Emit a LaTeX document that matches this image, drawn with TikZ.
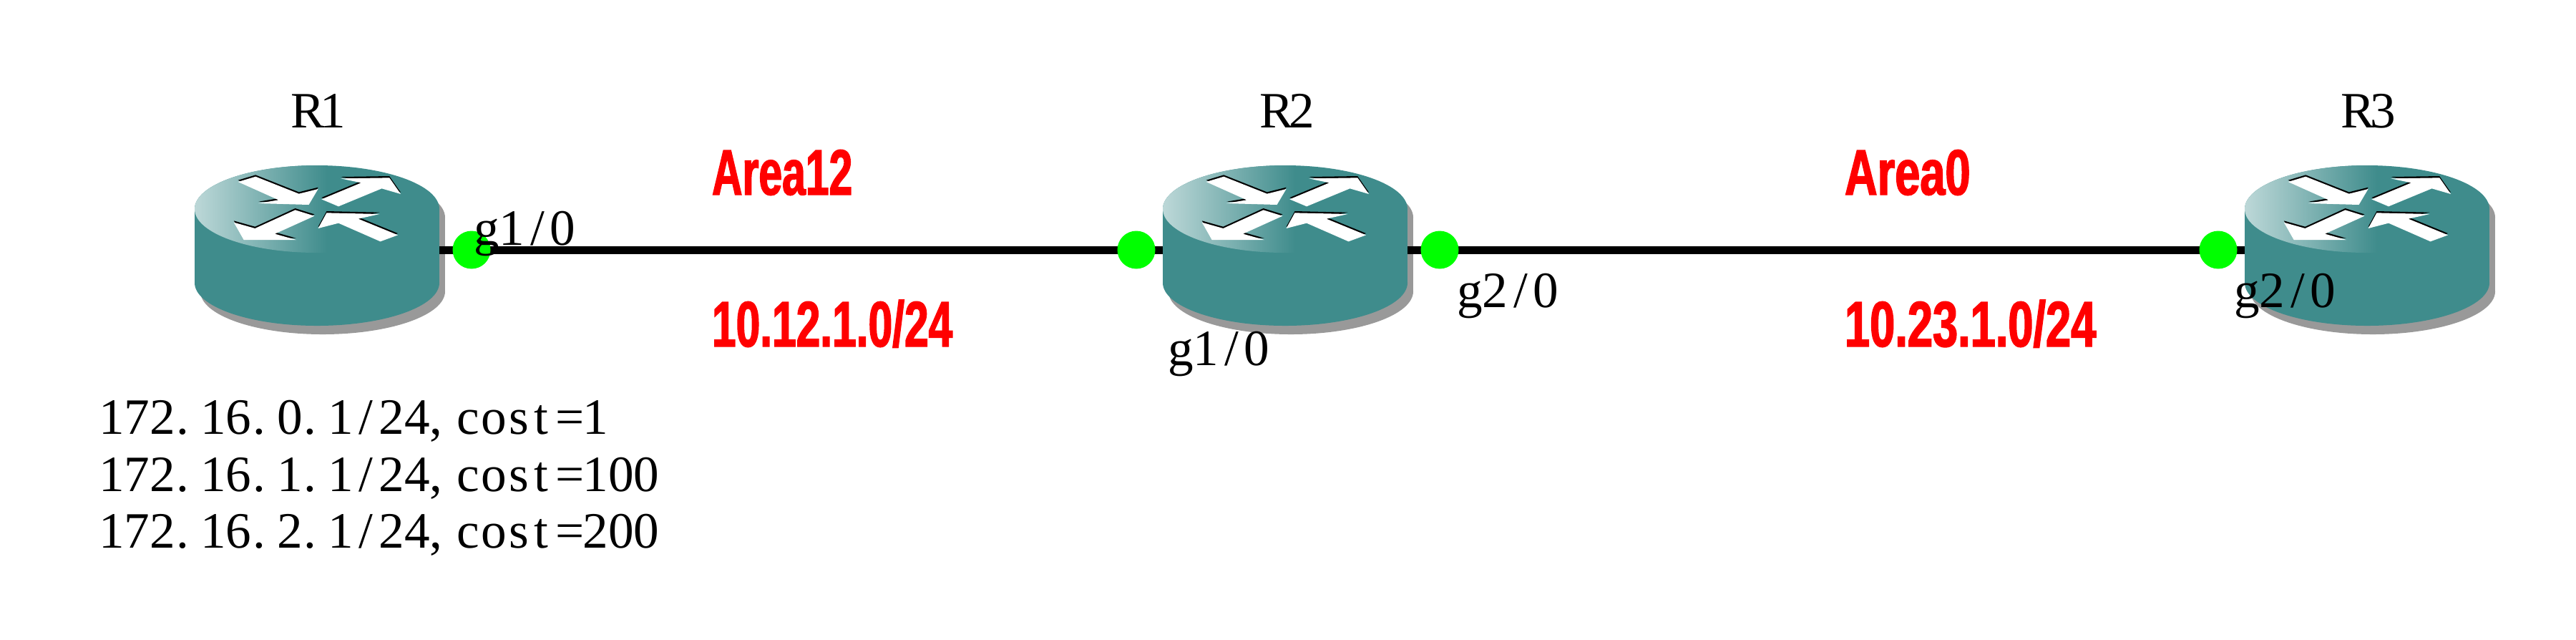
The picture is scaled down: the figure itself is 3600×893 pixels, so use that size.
\documentclass[tikz,border=0pt]{standalone}
\usepackage{fontspec}
\usetikzlibrary{shapes.geometric}
\setmainfont{Liberation Serif}
\newfontfamily\areafont[BoldFeatures={FakeStretch=0.6,FakeBold=1.5}]{Liberation Sans}
\definecolor{routerteal}{HTML}{3F8C8C}
\definecolor{routerlight}{HTML}{BDD8D8}
\definecolor{routershadow}{HTML}{999999}
\definecolor{portgreen}{HTML}{00FF00}
\def\mono#1{\monoi#1\relax}
\def\monoi#1{\ifx#1\relax\else\ifx#1.\makebox[0.5em][l]{\kern0.03em.}\else\ifx#1,\makebox[0.5em][l]{,}\else\ifx#1t\makebox[0.5em][l]{\kern0.05em t}\else\makebox[0.5em][c]{#1}\fi\fi\fi\expandafter\monoi\fi}
\tikzset{
  x=0.25pt,y=-0.25pt,
  link/.style={line width=2.75pt,black},
  port/.style={ellipse,fill=portgreen,draw=none,inner sep=0pt,minimum width=13.25pt,minimum height=13.25pt},
  lbl/.style={anchor=base west,inner sep=0pt,outer sep=0pt,font=\fontsize{17.8pt}{20pt}\selectfont},
  area/.style={anchor=base west,inner sep=0pt,outer sep=0pt,text=red,font=\areafont\bfseries\fontsize{22.5pt}{24pt}\selectfont},
  routerback/.pic={
    \begin{scope}[shift={(8,12)}]
      \fill[routershadow] (-171,0) rectangle (171,103);
      \fill[routershadow] (0,0) ellipse[x radius=171,y radius=61];
      \fill[routershadow] (0,103) ellipse[x radius=171,y radius=60];
    \end{scope}
  },
  routerfront/.pic={
    \fill[routerteal] (-171,0) rectangle (171,103);
    \fill[routerteal] (0,103) ellipse[x radius=171,y radius=60];
    \fill[routerteal] (0,0) ellipse[x radius=171,y radius=61];
    \begin{scope}
      \clip (0,0) ellipse[x radius=171,y radius=61];
      \shade[left color=routerlight,right color=routerteal] (-171,-61) rectangle (14,61);
    \end{scope}
    \begin{scope}[xscale=0.3953,yscale=0.3333,shift={(-564,-576)}]
      \foreach \col/\dy in {black/-7,white/0}{
        \fill[\col,shift={(0,\dy)}] (285,462)--(347,440)--(500,512)--(568,492)--(535,558)--(357,552)--(428,538)--cycle;
        \fill[\col,shift={(0,\dy)}] (580,535)--(720,466)--(648,448)--(820,445)--(860,513)--(793,490)--(640,565)--cycle;
        \fill[\col,shift={(0,\dy)}] (555,605)--(487,580)--(345,657)--(270,632)--(305,705)--(490,705)--(415,680)--cycle;
        \fill[\col,shift={(0,\dy)}] (850,685)--(710,617)--(785,597)--(598,592)--(568,657)--(640,635)--(788,712)--cycle;
      }
    \end{scope}
  }
}
\begin{document}
\begin{tikzpicture}
\useasboundingbox (0,0) rectangle (3600,893);
\coordinate (R1c) at (443,349);
\coordinate (R2c) at (1796,349);
\coordinate (R3c) at (3308,349);
\pic at (443,292) {routerback};
\pic at (1796,292) {routerback};
\pic at (3308,292) {routerback};
\draw[link] (R1c) -- (R2c);
\draw[link] (R2c) -- (R3c);
\pic at (443,292) {routerfront};
\pic at (1796,292) {routerfront};
\pic at (3308,292) {routerfront};
\node[port] (p1) at (659,349) {};
\node[port] (p2) at (1588,349) {};
\node[port] (p3) at (2012,349) {};
\node[port] (p4) at (3100,349) {};
\node[lbl] (n1) at (412,178) {\mono{R1}};
\node[lbl] (n2) at (1766,178) {\mono{R2}};
\node[lbl] (n3) at (3277,178) {\mono{R3}};
\node[lbl] (i1) at (662,342) {\mono{g1/0}};
\node[lbl] (i2) at (1632,510) {\mono{g1/0}};
\node[lbl] (i3) at (2036,429) {\mono{g2/0}};
\node[lbl] (i4) at (3122,429) {\mono{g2/0}};
\node[area] (a1) at (995,272) {\scalebox{1.09}[1]{Area12}};
\node[area] (a2) at (995,484) {\scalebox{1.12}[1]{10.12.1.0/24}};
\node[area] (a3) at (2578,272) {\scalebox{1.17}[1]{Area0}};
\node[area] (a4) at (2578,484) {\scalebox{1.17}[1]{10.23.1.0/24}};
\node[lbl] (c1) at (138,606) {\mono{172.16.0.1/24,cost=1}};
\node[lbl] (c2) at (138,686) {\mono{172.16.1.1/24,cost=100}};
\node[lbl] (c3) at (138,765) {\mono{172.16.2.1/24,cost=200}};
\end{tikzpicture}
\end{document}
